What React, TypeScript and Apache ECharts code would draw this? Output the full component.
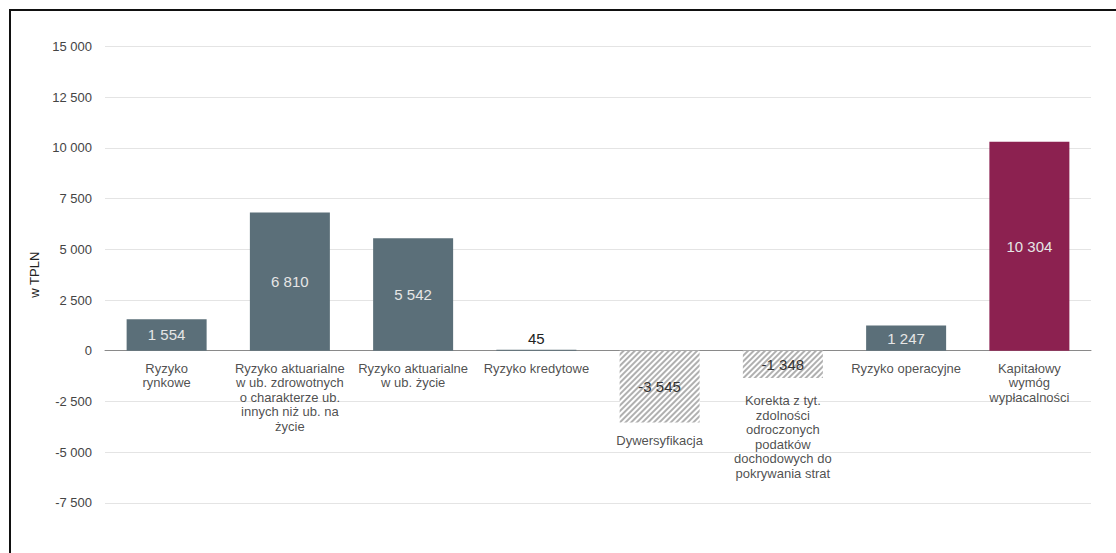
import React, { useEffect, useRef } from "react";
import * as echarts from "echarts";

const categories: string[] = [
  "Ryzyko\nrynkowe",
  "Ryzyko aktuarialne\nw ub. zdrowotnych\no charakterze ub.\ninnych niż ub. na\nżycie",
  "Ryzyko aktuarialne\nw ub. życie",
  "Ryzyko kredytowe",
  "Dywersyfikacja",
  "Korekta z tyt.\nzdolności\nodroczonych\npodatków\ndochodowych do\npokrywania strat",
  "Ryzyko operacyjne",
  "Kapitałowy\nwymóg\nwypłacalności",
];

const values: number[] = [1554, 6810, 5542, 45, -3545, -1348, 1247, 10304];

const axisName = "w TPLN";
const yMin = -7500;
const yMax = 15000;
const yStep = 2500;

const FONT = "'Liberation Sans', Arial, Helvetica, sans-serif";

function fmt(v: number): string {
  const s = Math.abs(Math.round(v)).toString().replace(/\B(?=(\d{3})+(?!\d))/g, " ");
  return (v < 0 ? "-" : "") + s;
}

const SLATE = "#5b6f79";
const CRIMSON = "#8c2150";

export default function App() {
  const ref = useRef<HTMLDivElement>(null);

  useEffect(() => {
    if (!ref.current) return;
    const chart = echarts.init(ref.current, null, { renderer: "svg" });
    const last = values.length - 1;

    const barData = values.map((v, i) => {
      if (v < 0) {
        return {
          value: v,
          itemStyle: {
            color: "#ffffff",
            decal: {
              symbol: "rect",
              symbolSize: 1,
              dashArrayX: [1, 0],
              dashArrayY: [1.5, 2],
              rotation: -Math.PI / 4,
              color: "#b0b0b0",
            },
          },
          label: { show: true, position: "inside", color: "#333333" },
        };
      }
      if (Math.abs(v) < 300) {
        return {
          value: v,
          itemStyle: { color: SLATE },
          label: { show: true, position: "top", distance: 4, color: "#222222" },
        };
      }
      return {
        value: v,
        itemStyle: { color: i === last ? CRIMSON : SLATE },
        label: { show: true, position: "inside", color: "#e6e6e6" },
      };
    });

    const catLabelData = values.map((v, i) => ({
      value: [i, Math.min(0, v)],
      label: { distance: v < 0 && v > -2000 ? 15 : 10 },
    }));

    chart.setOption({
      animation: false,
      backgroundColor: "transparent",
      grid: { left: 105, right: 25, top: 46.5, bottom: 50.2, containLabel: false },
      xAxis: {
        type: "category",
        data: categories,
        axisLine: { show: true, onZero: true, lineStyle: { color: "#8a8a8a", width: 1 } },
        axisTick: { show: false },
        axisLabel: { show: false },
        splitLine: { show: false },
      },
      yAxis: {
        type: "value",
        min: yMin,
        max: yMax,
        interval: yStep,
        name: axisName,
        nameLocation: "middle",
        nameGap: 64,
        nameRotate: 90,
        nameTextStyle: { color: "#222222", fontSize: 13, fontFamily: FONT },
        axisLine: { show: false },
        axisTick: { show: false },
        axisLabel: {
          color: "#444444",
          fontSize: 13,
          fontFamily: FONT,
          margin: 13,
          formatter: (v: number) => fmt(v),
        },
        splitLine: { show: true, lineStyle: { color: "#e4e4e4", width: 1 } },
      },
      series: [
        {
          type: "bar",
          data: barData,
          barWidth: 80,
          label: {
            fontSize: 15,
            fontFamily: FONT,
            formatter: (p: any) => fmt(p.value),
          },
        },
        {
          type: "scatter",
          data: catLabelData,
          symbolSize: 1,
          itemStyle: { color: "rgba(0,0,0,0)" },
          silent: true,
          label: {
            show: true,
            position: "bottom",
            distance: 10,
            color: "#222222",
            fontSize: 13,
            lineHeight: 14.5,
            fontFamily: FONT,
            align: "center",
            formatter: (p: any) => categories[p.dataIndex],
          },
        },
      ],
    });

    return () => chart.dispose();
  }, []);

  return (
    <div
      style={{
        position: "fixed",
        left: 0,
        top: 0,
        width: 1116,
        height: 553,
        overflow: "hidden",
        background: "#ffffff",
      }}
    >
      <div
        style={{
          position: "absolute",
          left: 9,
          top: 9,
          width: 1300,
          height: 800,
          border: "2px solid #111111",
          boxSizing: "border-box",
        }}
      />
      <div
        ref={ref}
        style={{ position: "absolute", left: 0, top: 0, width: 1116, height: 553 }}
      />
    </div>
  );
}
